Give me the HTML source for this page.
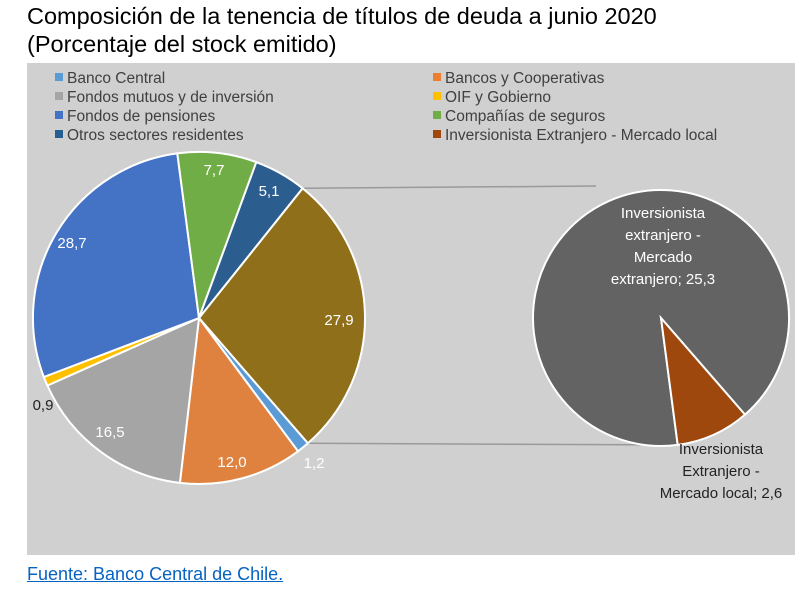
<!DOCTYPE html>
<html><head><meta charset="utf-8"><style>
body{margin:0;width:800px;height:591px;background:#fff;font-family:"Liberation Sans",sans-serif;position:relative;overflow:hidden}
.t{position:absolute;left:27px;font-size:23.5px;color:#000;white-space:nowrap}
</style></head><body>
<div class="t" style="top:3px">Composición de la tenencia de títulos de deuda a junio 2020</div>
<div class="t" style="top:31px">(Porcentaje del stock emitido)</div>
<svg width="800" height="591" style="position:absolute;left:0;top:0" font-family="Liberation Sans, sans-serif">
<rect x="27" y="63" width="768" height="492" fill="#d0d0d0"/>
<g font-size="15.5" fill="#404040">
<rect x="55" y="73" width="8" height="8" fill="#5b9bd5"/><text x="67" y="83">Banco Central</text>
<rect x="55" y="92" width="8" height="8" fill="#a5a5a5"/><text x="67" y="102">Fondos mutuos y de inversión</text>
<rect x="55" y="111" width="8" height="8" fill="#4472c4"/><text x="67" y="121">Fondos de pensiones</text>
<rect x="55" y="130" width="8" height="8" fill="#255e91"/><text x="67" y="140">Otros sectores residentes</text>
<rect x="433" y="73" width="8" height="8" fill="#ed7d31"/><text x="445" y="83">Bancos y Cooperativas</text>
<rect x="433" y="92" width="8" height="8" fill="#ffc000"/><text x="445" y="102">OIF y Gobierno</text>
<rect x="433" y="111" width="8" height="8" fill="#70ad47"/><text x="445" y="121">Compañías de seguros</text>
<rect x="433" y="130" width="8" height="8" fill="#9e480e"/><text x="445" y="140">Inversionista Extranjero - Mercado local</text>
</g>
<line x1="302.6" y1="188.3" x2="596" y2="186" stroke="#999" stroke-width="1.5"/>
<line x1="307.9" y1="443.3" x2="677" y2="445" stroke="#999" stroke-width="1.5"/>
<g stroke="#fff" stroke-width="2">
<path d="M199,318 L302.6,188.3 A166,166 0 0 1 307.9,443.3Z" fill="#8f6f1a"/>
<path d="M199,318 L307.9,443.3 A166,166 0 0 1 298,451.3Z" fill="#5b9bd5"/>
<path d="M199,318 L298,451.3 A166,166 0 0 1 179.9,482.9Z" fill="#e0823f"/>
<path d="M199,318 L179.9,482.9 A166,166 0 0 1 47.4,385.5Z" fill="#a5a5a5"/>
<path d="M199,318 L47.4,385.5 A166,166 0 0 1 43.8,377Z" fill="#ffc000"/>
<path d="M199,318 L43.8,377 A166,166 0 0 1 177.3,153.4Z" fill="#4472c4"/>
<path d="M199,318 L177.3,153.4 A166,166 0 0 1 256.3,162.2Z" fill="#70ad47"/>
<path d="M199,318 L256.3,162.2 A166,166 0 0 1 302.6,188.3Z" fill="#2b5d8f"/>
<path d="M661,318 L677.7,444.9 A128,128 0 1 1 745,414.6Z" fill="#636363"/>
<path d="M661,318 L745,414.6 A128,128 0 0 1 677.7,444.9Z" fill="#9e480e"/>
</g>
<g font-size="15" fill="#fff" text-anchor="middle">
<text x="72" y="248">28,7</text>
<text x="214" y="175">7,7</text>
<text x="269" y="196">5,1</text>
<text x="339" y="325">27,9</text>
<text x="232" y="467">12,0</text>
<text x="110" y="437">16,5</text>
<text x="314" y="468">1,2</text>
<text x="663" y="218">Inversionista</text>
<text x="663" y="240">extranjero -</text>
<text x="663" y="262">Mercado</text>
<text x="663" y="284">extranjero; 25,3</text>
</g>
<g font-size="15" fill="#222" text-anchor="middle">
<text x="43" y="410">0,9</text>
<text x="721" y="454">Inversionista</text>
<text x="721" y="476">Extranjero -</text>
<text x="721" y="498">Mercado local; 2,6</text>
</g>
</svg>
<div style="position:absolute;left:27px;top:564px;font-size:18px;color:#0563c1;text-decoration:underline">Fuente: Banco Central de Chile.</div>
</body></html>
